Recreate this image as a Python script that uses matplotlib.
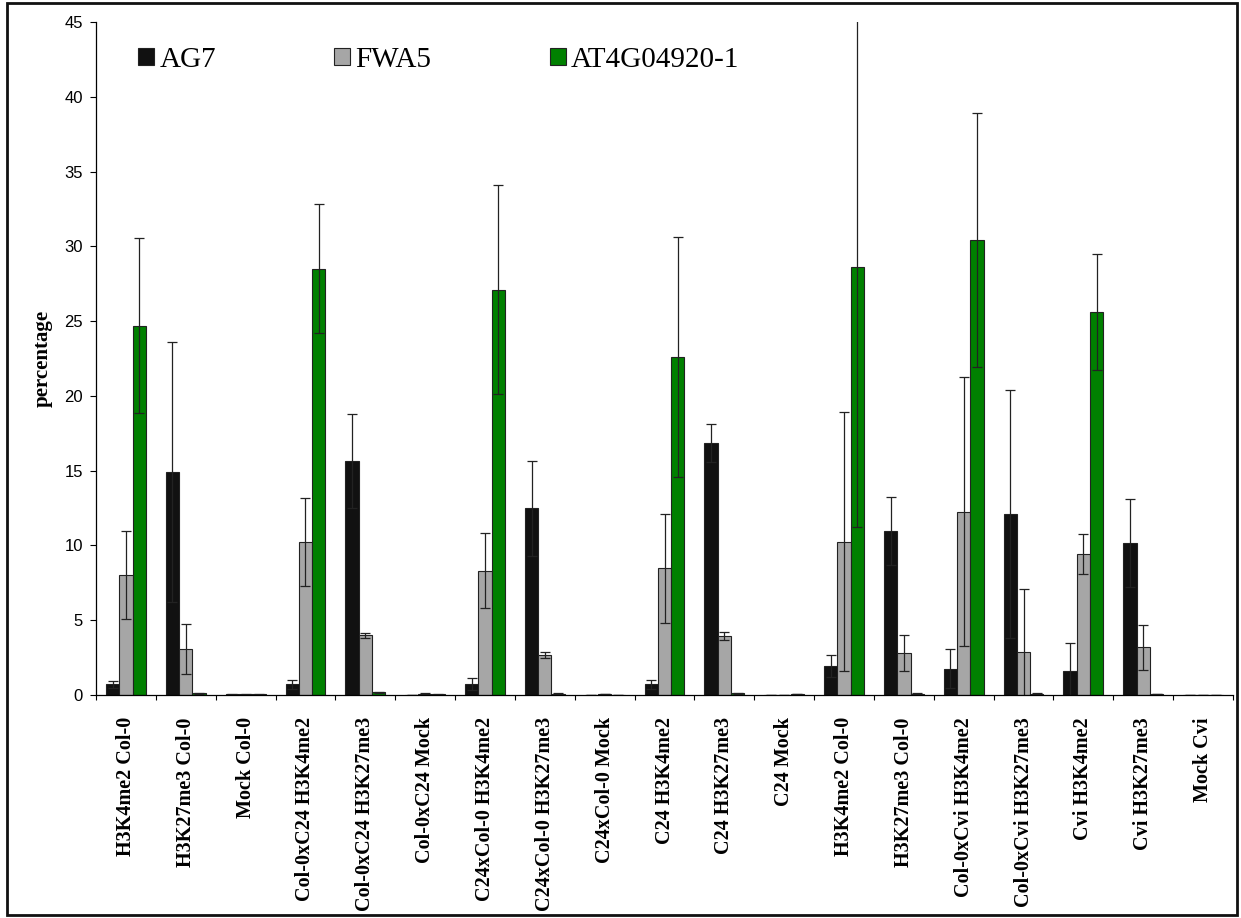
import numpy as np
import matplotlib
matplotlib.use("Agg")
import matplotlib.pyplot as plt
from matplotlib.patches import Rectangle

labels = ["H3K4me2 Col-0", "H3K27me3 Col-0", "Mock Col-0",
          "Col-0xC24 H3K4me2", "Col-0xC24 H3K27me3", "Col-0xC24 Mock",
          "C24xCol-0 H3K4me2", "C24xCol-0 H3K27me3", "C24xCol-0 Mock",
          "C24 H3K4me2", "C24 H3K27me3", "C24 Mock",
          "H3K4me2 Col-0", "H3K27me3 Col-0",
          "Col-0xCvi H3K4me2", "Col-0xCvi H3K27me3",
          "Cvi H3K4me2", "Cvi H3K27me3", "Mock Cvi"]

ag7 = [0.71, 14.93, 0.05, 0.71, 15.64, 0.02, 0.75, 12.48, 0.0, 0.71, 16.87, 0.0,
       1.94, 10.98, 1.75, 12.12, 1.6, 10.18, 0.0]
ag7_err = [0.23, 8.7, 0.02, 0.3, 3.14, 0.01, 0.42, 3.16, 0.0, 0.3, 1.27, 0.0,
           0.75, 2.27, 1.3, 8.3, 1.9, 2.94, 0.0]

fwa5 = [8.02, 3.07, 0.05, 10.25, 4.0, 0.08, 8.31, 2.7, 0.05, 8.47, 3.94, 0.02,
        10.25, 2.8, 12.25, 2.9, 9.4, 3.2, 0.0]
fwa5_err = [2.94, 1.65, 0.02, 2.94, 0.16, 0.08, 2.5, 0.2, 0.0, 3.65, 0.28, 0.0,
            8.67, 1.2, 9.0, 4.2, 1.34, 1.5, 0.0]

at4g = [24.7, 0.12, 0.04, 28.5, 0.18, 0.04, 27.1, 0.1, 0.0, 22.6, 0.12, 0.05,
        28.6, 0.1, 30.4, 0.1, 25.6, 0.05, 0.0]
at4g_err = [5.85, 0.03, 0.01, 4.3, 0.04, 0.01, 7.0, 0.03, 0.0, 8.0, 0.02, 0.0,
            17.35, 0.03, 8.5, 0.03, 3.9, 0.01, 0.0]

series = [("AG7", ag7, ag7_err, "#111111"),
          ("FWA5", fwa5, fwa5_err, "#a6a6a6"),
          ("AT4G04920-1", at4g, at4g_err, "#008000")]

fig = plt.figure(figsize=(12.41, 9.18), dpi=100)
ax = fig.add_axes([96 / 1241, 1 - 695 / 918, 1137 / 1241, 673 / 918])

x = np.arange(len(labels)) + 0.5
w = 0.222
for k, (name, vals, errs, col) in enumerate(series):
    ax.bar(x + (k - 1) * w, vals, w, color=col, edgecolor="#222222",
           linewidth=0.8, label=name)
    ax.errorbar(x + (k - 1) * w, vals, yerr=errs, fmt="none", ecolor="#222222",
                elinewidth=0.9, capsize=3.5, capthick=0.9)

ax.set_xlim(0, len(labels))
ax.set_ylim(0, 45)
ax.set_yticks(np.arange(0, 46, 5))
ax.tick_params(axis="y", direction="out", length=4.5, width=0.8, labelsize=12, pad=5)
for t in ax.get_yticklabels():
    t.set_family("Liberation Sans")

# ticks at the group boundaries, names centred under each group
ax.set_xticks(np.arange(0, len(labels) + 1))
ax.set_xticklabels([])
ax.tick_params(axis="x", which="major", direction="out", length=3.5, width=0.8)
ax.set_xticks(x, minor=True)
ax.set_xticklabels(labels, minor=True, rotation=90, va="top", ha="center",
                   family="Liberation Serif", fontweight="bold", fontsize=14.5)
ax.tick_params(axis="x", which="minor", length=0, pad=16)

for s in ("top", "right"):
    ax.spines[s].set_visible(False)
for s in ("left", "bottom"):
    ax.spines[s].set_linewidth(0.9)

ax.set_ylabel("percentage", family="Liberation Serif", fontweight="bold",
              fontsize=15, labelpad=8)

leg = ax.legend(ncol=3, loc="center left", bbox_to_anchor=(0.037, 0.944),
                frameon=False, prop={"family": "Liberation Serif", "size": 21},
                handlelength=0.55, handleheight=0.55, handletextpad=0.18,
                columnspacing=4.05, borderpad=0, borderaxespad=0)

fig.patches.append(Rectangle((7 / 1241, 3 / 918), 1230 / 1241, 912 / 918,
                             transform=fig.transFigure, fill=False,
                             edgecolor="#111111", linewidth=2))

fig.savefig("out.png", dpi=100)
